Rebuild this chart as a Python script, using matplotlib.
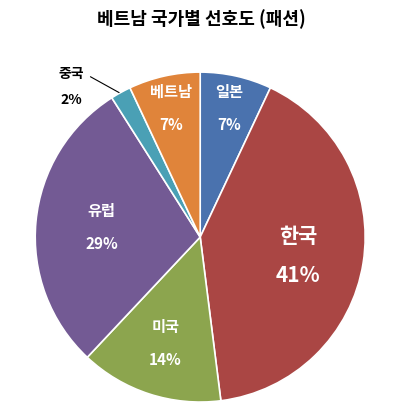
import matplotlib.pyplot as plt
import numpy as np

plt.rcParams['font.family'] = ['Noto Sans CJK KR', 'DejaVu Sans']

labels = ["일본", "한국", "미국", "유럽", "중국", "베트남"]
values = [7, 41, 14, 29, 2, 7]
colors = ["#4a72ae", "#aa4644", "#8ca54e", "#735a94", "#4aa0b5", "#e0843a"]

fig = plt.figure(figsize=(4.02, 4.17), dpi=100)
ax = fig.add_axes([0.075, 0.024, 0.846, 0.815])
wedges, _ = ax.pie(values, colors=colors, startangle=90, counterclock=False,
                   wedgeprops=dict(edgecolor="white", linewidth=1.2))
ax.set_xlim(-1.03, 1.03)
ax.set_ylim(-1.03, 1.03)
ax.set_aspect("equal")

ang = 90.0
for lab, v, w in zip(labels, values, wedges):
    mid = np.deg2rad(ang - v * 1.8)
    ang -= v * 3.6
    if lab == "중국":
        x, y = np.cos(mid), np.sin(mid)
        ax.annotate("", xy=(x * 0.99, y * 0.99), xytext=(-0.68, 0.98),
                    arrowprops=dict(arrowstyle="-", color="black", lw=0.8))
        ax.text(-0.78, 0.99, lab, ha="center", va="center", fontsize=10, fontweight="bold")
        ax.text(-0.78, 0.83, f"{v}%", ha="center", va="center", fontsize=10, fontweight="bold")
        continue
    r = 0.68 if v < 20 else 0.6
    if lab in ("일본", "베트남"):
        r = 0.8
    x, y = r * np.cos(mid), r * np.sin(mid)
    fs = 15 if lab == "한국" else 11
    ax.text(x, y + 0.1, lab, ha="center", va="center", color="white", fontsize=fs, fontweight="bold")
    ax.text(x, y - 0.1 - (0.04 if fs > 11 else 0), f"{v}%", ha="center", va="center",
            color="white", fontsize=fs, fontweight="bold")

fig.text(0.5, 0.955, "베트남 국가별 선호도 (패션)", ha="center", va="center",
         fontsize=13, fontweight="bold")
fig.savefig("out.png")
